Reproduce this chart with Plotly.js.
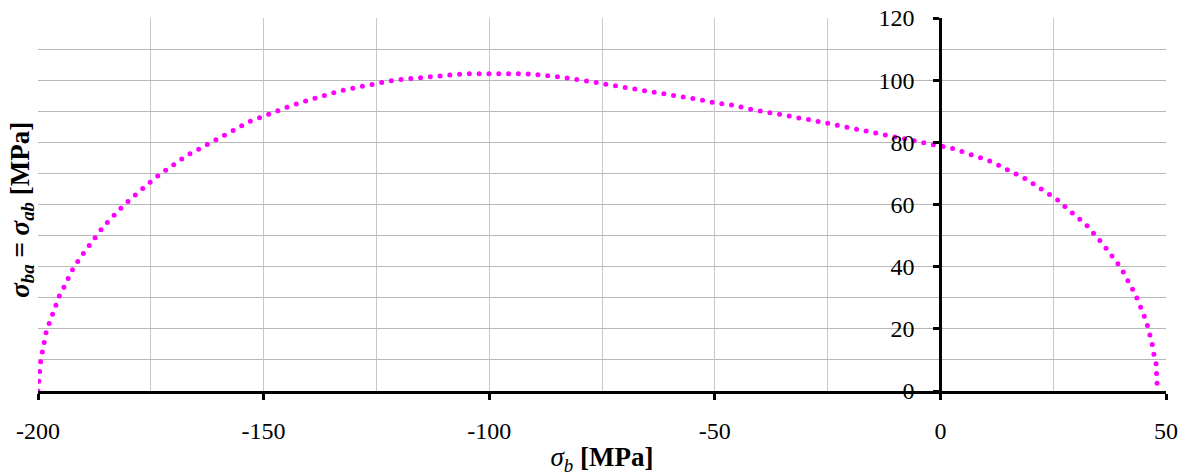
<!DOCTYPE html>
<html>
<head>
<meta charset="utf-8">
<script src="https://cdn.plot.ly/plotly-3.0.1.min.js"></script>
<style>
html,body{margin:0;padding:0;background:#fff;}
#chart{width:1190px;height:476px;}
.scatterlayer path.js-line{stroke-linecap:round;}
.xtick text,.ytick text{font-family:"Liberation Serif","Times New Roman",serif !important;}
</style>
</head>
<body>
<div id="chart"></div>
<script>
// sigma_b [MPa]
var sigmaB = [-200,-199.7,-199.6,-199.4,-199.0,-198.7,-198.2,-197.5,-196.8,-196.2,-195.3,-194.3,-193.4,-192.5,-190.8,-189.5,-188.2,-186.9,-185.5,-184,-182.4,-180.9,-179.2,-177.5,-175.8,-174.1,-172.3,-170.5,-168.7,-166.8,-165,-163,-161,-159,-157,-155.1,-153.1,-150,-147.9,-145.9,-143.9,-141.8,-139.8,-137.6,-135.5,-133.4,-131.3,-129.1,-127,-124.8,-122.6,-120.4,-118.2,-116,-113.8,-111.6,-109.4,-106,-102.7,-100.4,-98.2,-95.8,-93.5,-91.2,-89,-86.8,-84.6,-82.4,-80.2,-78,-75.9,-73.8,-71.6,-69.4,-67.2,-65,-62.8,-60.6,-58.4,-56.3,-54.2,-52.1,-49.9,-47.7,-45.5,-43.4,-41.4,-39.3,-37.2,-35,-32.9,-30.8,-28.7,-26.6,-24.5,-22.4,-20.2,-18.2,-16.1,-14.1,-12.0,-10,-7.8,-5.5,-3.3,-1.1,0.7,3,4.8,6.7,8.6,10.2,12,13.7,15.5,17.1,18.8,20.3,22.8,24.4,25.9,27.3,28.7,30.1,31.5,32.7,33.9,35.1,36.2,37.3,38.2,39.4,40.4,41.1,42.1,42.7,43.5,44.3,45,45.6,46.1,46.6,47,47.3,47.8,47.9,48,48.1];
// sigma_ba = sigma_ab [MPa]
var sigmaBA = [0,3.3,6.7,9.8,12.8,15.9,18.8,21.8,24.7,27.7,30.5,33.2,36.1,38.7,42.6,45.1,47.8,50.2,52.9,55.2,57.7,59.9,62.1,64.3,66.5,68.5,70.4,72.3,74.2,76.0,77.3,78.9,80.4,82.0,83.7,85.3,86.7,88.4,89.7,90.6,91.8,92.8,93.7,94.7,95.6,96.4,97.1,97.8,98.5,99.0,99.6,100.1,100.4,100.9,101.3,101.6,101.9,102.0,102.1,102.2,102.2,102.2,102.1,102.0,101.8,101.5,101.1,100.6,100.2,99.8,99.2,98.6,98.1,97.5,97.0,96.6,96.1,95.6,95.0,94.3,93.8,93.4,92.7,92.2,91.9,91.0,90.6,90.1,89.4,88.9,88.5,87.7,87.2,86.6,86.1,85.5,84.9,84.2,83.8,83.1,82.6,81.8,81.3,80.5,79.9,79.1,78.6,77.9,77.1,76.3,75.3,74.4,73.3,72.1,70.8,69.6,68.3,66.9,64.6,63.2,61.6,59.7,58.1,56.4,54.5,52.9,50.6,48.8,46.9,45,42.9,40.8,38.6,36.8,34.7,32.4,30.1,27.6,25,22.6,19.9,17.3,14.7,11.9,8.8,5.7,2.7,0];

var xTickVals = [-200,-150,-100,-50,0,50];
var xTickText = ['-200','-150','-100','-50','0','50'];
var yTickVals = [0,20,40,60,80,100,120];
var yTickText = ['0','20','40','60','80','100','120'];

var FONT = 'Liberation Serif, Times New Roman, serif';

var trace = {
  x: sigmaB,
  y: sigmaBA,
  type: 'scatter',
  mode: 'lines',
  line: {color: '#ff00ff', width: 5, dash: '0px,9.8px'},
  hoverinfo: 'skip',
  showlegend: false
};

var layout = {
  width: 1190,
  height: 476,
  margin: {l: 38, r: 24, t: 18, b: 85},
  paper_bgcolor: '#ffffff',
  plot_bgcolor: '#ffffff',
  font: {family: FONT, size: 23, color: '#000'},
  showlegend: false,
  xaxis: {
    range: [-200, 50],
    tickmode: 'array',
    tickvals: xTickVals,
    ticktext: xTickText,
    ticks: 'outside',
    ticklen: 6,
    tickwidth: 3,
    tickcolor: '#000',
    ticklabelstandoff: 10,
    showline: true,
    linecolor: '#000',
    linewidth: 3,
    showgrid: true,
    gridcolor: '#c8c8c8',
    gridwidth: 1,
    minor: {dtick: 25, tick0: 0, showgrid: true, gridcolor: '#c8c8c8', gridwidth: 1, ticks: ''},
    zeroline: false,
    tickfont: {family: FONT, size: 24, color: '#000'},
    title: {
      text: '<i>σ</i><sub><i>b</i></sub> <b>[MPa]</b>',
      font: {family: FONT, size: 27, color: '#000'},
      standoff: 8
    },
    fixedrange: true
  },
  yaxis: {
    range: [0, 120],
    anchor: 'free',
    position: 0.8,
    side: 'left',
    tickmode: 'array',
    tickvals: yTickVals,
    ticktext: yTickText,
    ticks: 'outside',
    ticklen: 6,
    tickwidth: 3,
    tickcolor: '#000',
    ticklabelstandoff: 14,
    showline: true,
    linecolor: '#000',
    linewidth: 3,
    showgrid: true,
    gridcolor: '#b8b8b8',
    gridwidth: 1,
    minor: {dtick: 10, tick0: 0, showgrid: true, gridcolor: '#b8b8b8', gridwidth: 1, ticks: ''},
    zeroline: false,
    tickfont: {family: FONT, size: 24, color: '#000'},
    fixedrange: true
  },
  annotations: [{
    xref: 'paper', yref: 'paper',
    x: -0.0145, y: 0.485,
    xanchor: 'center', yanchor: 'middle',
    textangle: -90,
    showarrow: false,
    text: '<b><i>σ</i><sub><i>ba</i></sub> = <i>σ</i><sub><i>ab</i></sub> [MPa]</b>',
    font: {family: FONT, size: 27, color: '#000'}
  }]
};

Plotly.newPlot('chart', [trace], layout, {staticPlot: true, displayModeBar: false});
</script>
</body>
</html>
